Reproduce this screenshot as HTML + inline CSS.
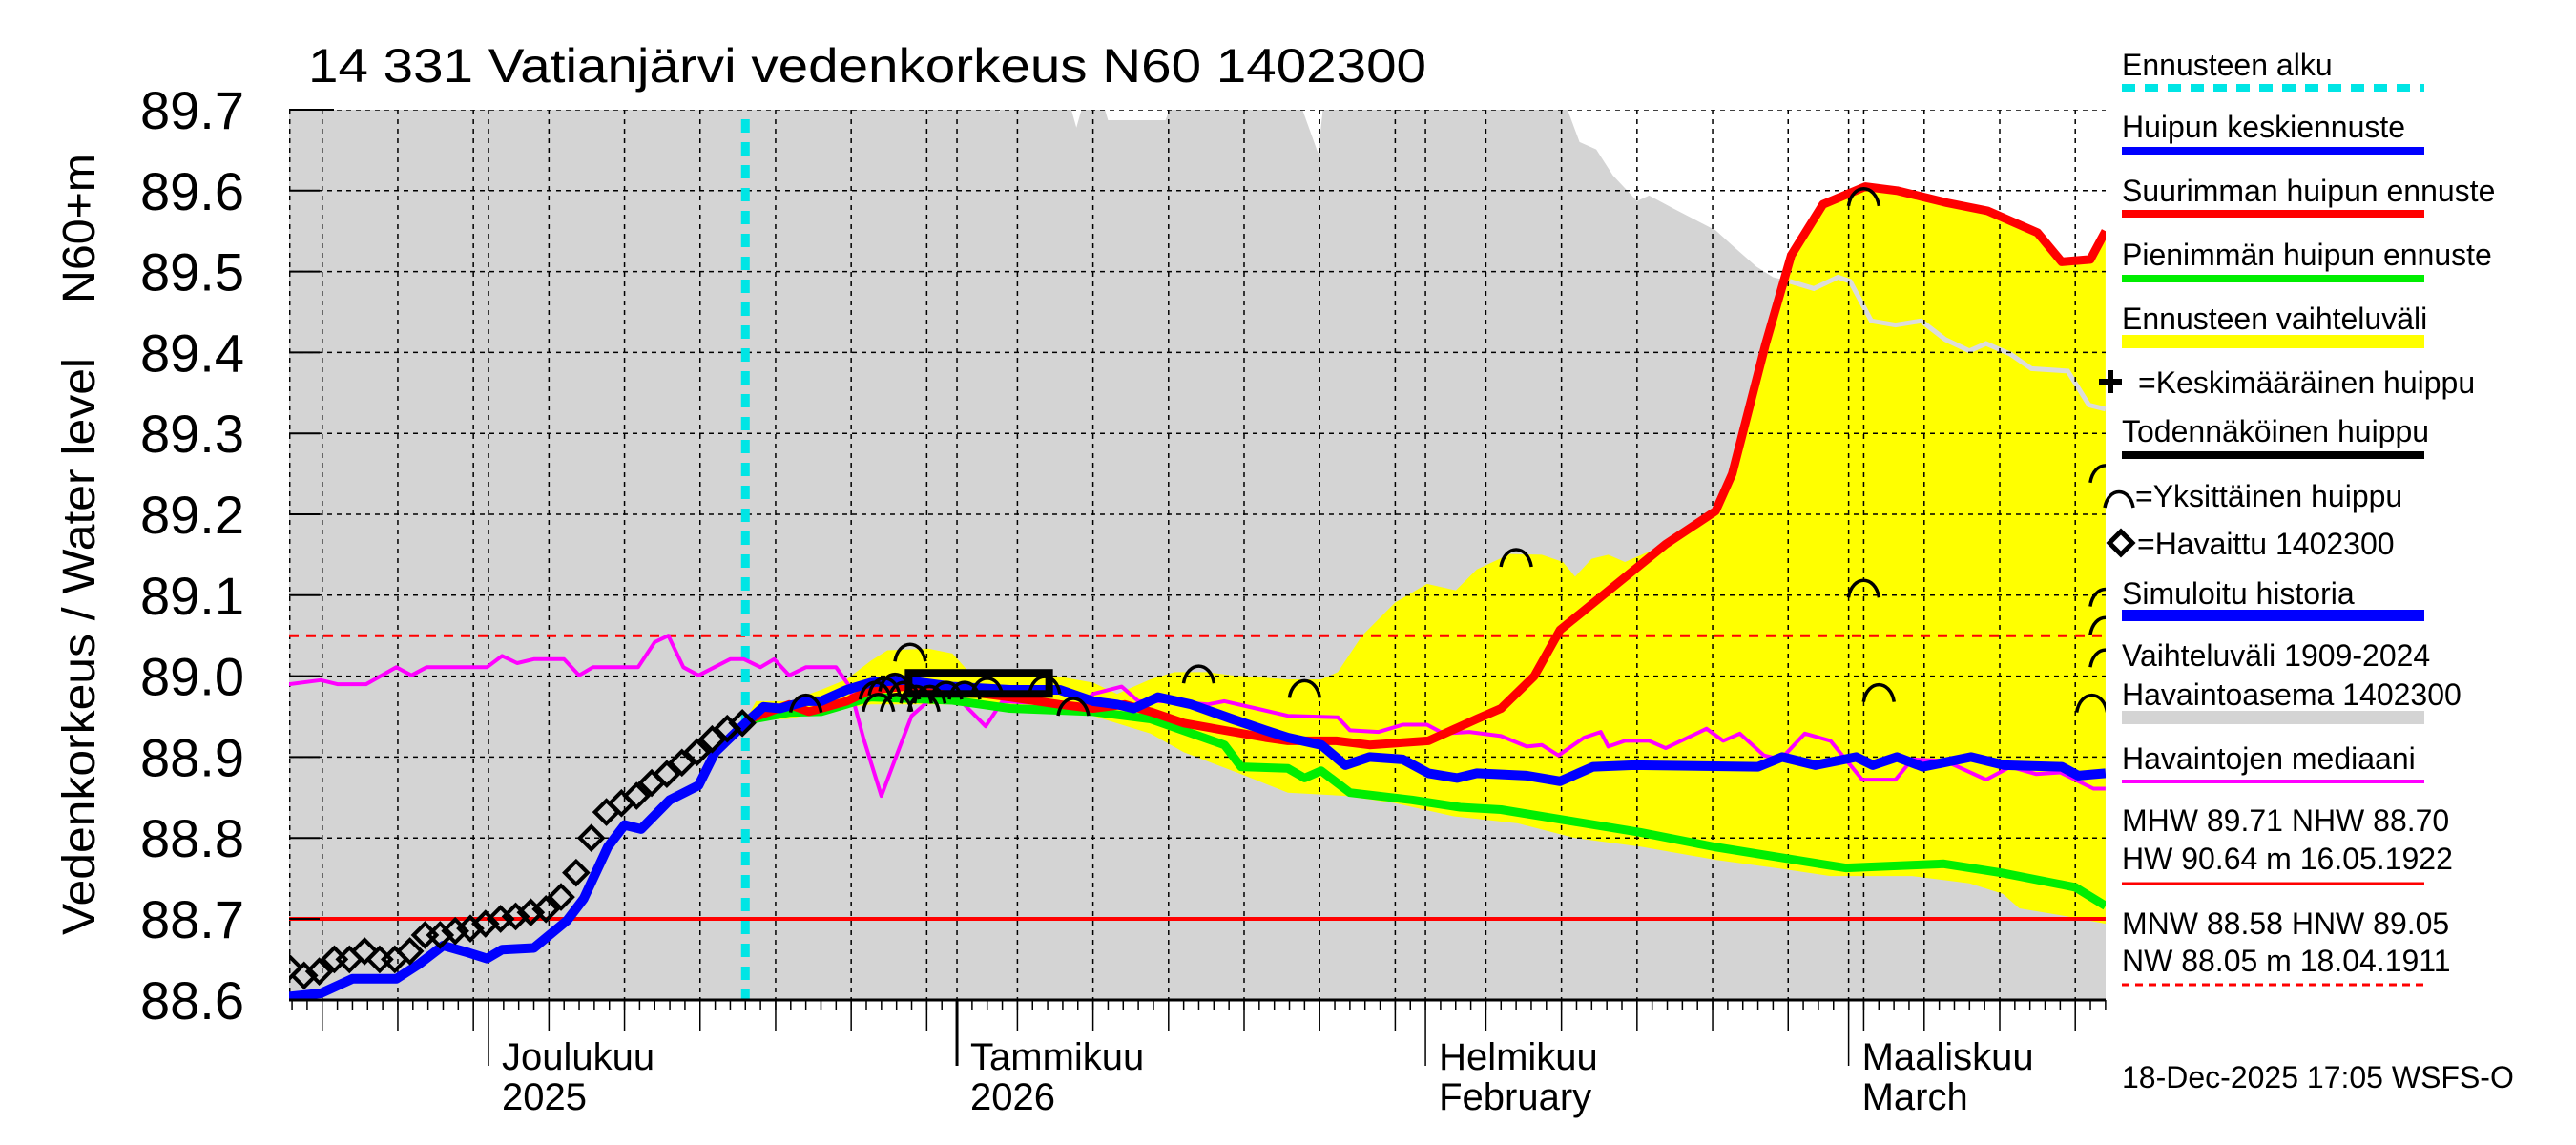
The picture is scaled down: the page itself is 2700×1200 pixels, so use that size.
<!DOCTYPE html>
<html><head><meta charset="utf-8">
<style>
html,body{margin:0;padding:0;background:#fff;}
svg{display:block;font-family:"Liberation Sans",Arial,sans-serif;}
</style></head>
<body>
<svg id="chart" width="2700" height="1200" viewBox="0 0 2700 1200">
<defs><clipPath id="plotclip"><rect x="303" y="115" width="1904" height="933"/></clipPath></defs>
<g id="plot" clip-path="url(#plotclip)"></g>
<g id="axes"></g>
<g id="legend"></g>
</svg>
<script>
// ---- data (day 0 = 1 Dec 2025) ----
const yTicks = [88.6,88.7,88.8,88.9,89.0,89.1,89.2,89.3,89.4,89.5,89.6,89.7];
const yTickLabels = ["88.6","88.7","88.8","88.9","89.0","89.1","89.2","89.3","89.4","89.5","89.6","89.7"];
const gridDays = [-11,-6,-1,4,9,14,19,24,29,35,40,45,50,55,60,66,71,76,81,86,91,95,100,105];
const monthDays = [0,31,62,90];
const monthLabels = ["Joulukuu","Tammikuu","Helmikuu","Maaliskuu"];
const monthLabels2 = ["2025","2026","February","March"];
const forecastStartDay = 17;
const nhw = 88.70, hnw = 89.05;

const obsValues = [88.64,88.63,88.635,88.65,88.65,88.66,88.65,88.65,88.66,88.68,88.68,88.685,88.688,88.694,88.70,88.703,88.708,88.712,88.727,88.757,88.80,88.832,88.843,88.852,88.868,88.879,88.893,88.906,88.922,88.935,88.942];
const obsStartDay = -13.2;

const blueDays = [-13.2,-11.1,-9,-6.1,-4.6,-3,-1.3,-0.1,0.9,3,5.2,6.3,7.9,9,10.1,12,13.9,15,17,18.2,19.3,21,22,23.7,25.3,27.5,30.7,34.5,37.8,40,41.6,42.7,44.3,46.5,49.2,51.4,52.9,55.1,56.7,58.3,60.5,62.2,64.1,65.4,68.7,70.9,73.1,75.8,84,85.6,87.8,90.5,91.6,93.2,94.9,98.1,100.3,104.1,105.2,107];
const blueValues = [88.604,88.608,88.626,88.626,88.644,88.667,88.658,88.651,88.662,88.664,88.698,88.725,88.789,88.816,88.811,88.847,88.865,88.906,88.942,88.962,88.96,88.969,88.969,88.983,88.992,88.995,88.987,88.983,88.983,88.969,88.965,88.96,88.974,88.965,88.947,88.933,88.924,88.915,88.89,88.90,88.897,88.88,88.874,88.88,88.877,88.87,88.888,88.89,88.888,88.90,88.89,88.90,88.89,88.90,88.888,88.90,88.89,88.888,88.877,88.88];

const redDays = [17,19.9,21.2,22,23.7,25.3,27.5,30.7,34.5,37.8,40,42.1,43.8,46,48.7,51.4,52.9,56.1,58.3,62.2,65.4,67,69.2,70.9,74.6,77.9,81.2,82.3,84.5,86.2,88.3,91.1,93.2,96.5,99.2,102.5,104.1,106,107];
const redValues = [88.945,88.965,88.956,88.96,88.969,88.983,88.987,88.983,88.974,88.965,88.96,88.965,88.956,88.942,88.933,88.924,88.92,88.92,88.915,88.92,88.947,88.96,89.0,89.057,89.113,89.163,89.204,89.25,89.41,89.52,89.583,89.605,89.6,89.585,89.575,89.548,89.512,89.515,89.55];

const greenDays = [17,19.9,22,25.3,30.7,34.5,40,43.8,48.7,49.8,52.9,54,55.1,57,61.1,64.3,67,71.9,76.2,81.1,89.8,96.3,100.1,105,107];
const greenValues = [88.945,88.955,88.956,88.974,88.97,88.96,88.956,88.947,88.915,88.888,88.886,88.874,88.883,88.856,88.847,88.838,88.835,88.82,88.807,88.789,88.763,88.768,88.757,88.739,88.716];

const medDays = [-13.2,-11.1,-10,-8.1,-6.1,-5.1,-4.1,-0.1,0.9,1.9,3,5,6,6.9,9.9,11,11.9,12.9,13.9,16,16.9,18,18.9,19.9,21,23,23.9,24.8,26,26.9,28,29.1,31,32.9,34,37.8,38.9,40,41.9,43,44.9,47.6,48.7,50.8,52.9,56.2,57,58.9,60.5,62.1,63.2,64.9,67,68.7,69.7,70.8,72.5,73.6,74.1,75.2,76.8,77.9,80.6,81.7,82.8,84.4,85.5,87.1,88.8,90.9,93.1,94.2,96.4,99.1,100.7,102.4,104,106.2,107];
const medValues = [88.99,88.995,88.99,88.99,89.011,89.001,89.011,89.011,89.025,89.016,89.021,89.021,89.001,89.011,89.011,89.042,89.05,89.011,89.001,89.021,89.021,89.011,89.021,89.001,89.011,89.011,88.987,88.924,88.852,88.897,88.951,88.969,88.974,88.938,88.969,88.965,88.956,88.978,88.987,88.969,88.969,88.965,88.969,88.96,88.951,88.949,88.933,88.931,88.94,88.94,88.929,88.931,88.926,88.913,88.915,88.902,88.924,88.931,88.913,88.92,88.92,88.911,88.935,88.92,88.929,88.902,88.897,88.929,88.92,88.872,88.872,88.897,88.895,88.872,88.888,88.879,88.881,88.861,88.861];

const grayDays = [-14,33,33.8,34.6,37.8,38.9,40,41,44.8,46,52.9,54.9,55.5,71.4,72.2,73.3,74.4,76,76.8,78.4,81.2,82.5,83.9,85,86.1,87.7,89.3,90.1,91.5,93.1,94.8,96.4,98,99.1,100.7,102.1,104.5,105.9,107,108];
const grayUpper = [89.75,89.75,89.696,89.75,89.75,89.678,89.75,89.687,89.687,89.75,89.75,89.646,89.75,89.7,89.66,89.651,89.619,89.587,89.594,89.578,89.551,89.529,89.506,89.493,89.488,89.479,89.493,89.488,89.439,89.434,89.439,89.416,89.402,89.411,89.398,89.38,89.377,89.335,89.33,89.33];
const paleStart = 24;

const yelUpDays = [17,17.7,19.9,22,23.7,25.3,26.4,29.1,30.7,31.8,32.9,37.3,40,41.6,43.8,45.4,47.6,49.2,52.9,55.1,56.2,57.8,60,62.1,64,65.4,67.6,69.7,71.1,71.9,73,74.1,75.2,77.9,81.2,82.3,84.5,86.2,88.3,91.1,93.2,96.5,99.2,102.5,104.1,106,107];
const yelUpValues = [88.945,88.969,88.969,88.983,88.996,89.019,89.032,89.034,89.028,89.005,89.001,89.001,88.992,88.978,88.996,89.005,89.005,89.001,88.996,88.996,89.005,89.05,89.091,89.114,89.106,89.132,89.151,89.15,89.141,89.123,89.145,89.15,89.141,89.163,89.204,89.25,89.41,89.52,89.583,89.605,89.6,89.585,89.575,89.548,89.512,89.515,89.55];
const yelLoDays = [17,19.9,22,25.3,30.7,34.5,40,43.8,46,49.8,52.9,56.7,60,63.8,68.1,71.9,76.3,81.2,85.5,88.8,94.2,98,100.2,101.3,104.5,107];
const yelLoValues = [88.945,88.947,88.956,88.965,88.965,88.956,88.951,88.929,88.906,88.879,88.856,88.852,88.843,88.827,88.818,88.8,88.789,88.773,88.762,88.753,88.753,88.744,88.731,88.713,88.703,88.694];

const probDays = [27.8,37.1];
const probValues = [89.004,88.978];

const peakDays = [21,27.9,47,54,68,91,91,92,107,107,107,107,106.1,25.6,26.2,26.9,27.5,28.3,29.2,30.3,31.5,33,36.8,38.7,25.8,27,28.8];
const peakValues = [88.974,89.037,89.01,88.992,89.154,89.6,89.116,88.987,89.258,89.105,89.07,89.03,88.974,88.99,88.995,89.0,88.99,88.985,88.985,88.99,88.99,88.995,88.997,88.97,88.975,88.975,88.975];

// ---- scales ----
const NS = "http://www.w3.org/2000/svg";
function xS(d){ return 512 + 15.84*d; }
function yS(v){ return 115 + (89.7 - v)*848; }
function mk(tag, attrs, parent){ const e=document.createElementNS(NS,tag); for(const k in attrs) e.setAttribute(k,attrs[k]); parent.appendChild(e); return e; }
const plot=document.getElementById('plot'), axes=document.getElementById('axes'), legend=document.getElementById('legend');
function pathOf(days, vals){ return days.map((d,i)=>(i?'L':'M')+xS(d).toFixed(1)+','+yS(vals[i]).toFixed(1)).join(''); }

let g = mk('path',{d:pathOf(grayDays,grayUpper)+'L'+xS(108)+','+yS(88.5)+'L'+xS(-14)+','+yS(88.5)+'Z',fill:'#d4d4d4'},plot);



const yd = pathOf(yelUpDays,yelUpValues) + yelLoDays.slice().reverse().map((d,i)=>'L'+xS(d).toFixed(1)+','+yS(yelLoValues[yelLoValues.length-1-i]).toFixed(1)).join('') + 'Z';
let yb = mk('path',{d:yd,fill:'#ffff00'},plot);



let pl = mk('path',{d:pathOf(grayDays.slice(paleStart,grayDays.length-1),grayUpper.slice(paleStart,grayUpper.length-1)),fill:'none',stroke:'#dcdcdc','stroke-width':5},plot);



yTicks.forEach((v,i)=>{
  if(i===0) return;
  const l=mk('line',{x1:303,x2:2207,y1:yS(v),y2:yS(v),stroke:'#000','stroke-width':1.5,'stroke-dasharray':'5,5'},plot);
  
  
});
gridDays.concat(monthDays).concat([-13.2+0.05]).forEach(d=>{
  const l=mk('line',{x1:xS(d),x2:xS(d),y1:115,y2:1048,stroke:'#000','stroke-width':1.5,'stroke-dasharray':'5,5'},plot);
  
  
});
let rl=mk('line',{x1:303,x2:2207,y1:yS(nhw),y2:yS(nhw),stroke:'#ff0000','stroke-width':4},plot);


let rd=mk('line',{x1:303,x2:2207,y1:yS(hnw),y2:yS(hnw),stroke:'#ff0000','stroke-width':3,'stroke-dasharray':'10,8'},plot);


let cy=mk('line',{x1:xS(forecastStartDay),x2:xS(forecastStartDay),y1:125,y2:1048,stroke:'#00e5e5','stroke-width':9,'stroke-dasharray':'14,10'},plot);



let m=mk('path',{d:pathOf(medDays,medValues),fill:'none',stroke:'#ff00ff','stroke-width':4,'stroke-linejoin':'round'},plot);


let gr=mk('path',{d:pathOf(greenDays,greenValues),fill:'none',stroke:'#00ee00','stroke-width':9,'stroke-linejoin':'round'},plot);


let re=mk('path',{d:pathOf(redDays,redValues),fill:'none',stroke:'#ff0000','stroke-width':9,'stroke-linejoin':'round'},plot);


let bl=mk('path',{d:pathOf(blueDays,blueValues),fill:'none',stroke:'#0000ff','stroke-width':10,'stroke-linejoin':'round'},plot);


let pr=mk('rect',{x:xS(probDays[0]),y:yS(probValues[0]),width:xS(probDays[1])-xS(probDays[0]),height:yS(probValues[1])-yS(probValues[0]),fill:'none',stroke:'#000','stroke-width':8},plot);


peakDays.forEach((d,i)=>{
  const x=xS(d), y=yS(peakValues[i])+12;
  const a=mk('path',{d:`M${x-16},${y+4}C${x-12},${y-20} ${x+12},${y-20} ${x+16},${y+4}`,fill:'none',stroke:'#000','stroke-width':3.5},plot);
  
  
});
obsValues.forEach((v,i)=>{
  const x=xS(obsStartDay+i), y=yS(v);
  const p=mk('path',{d:`M${x},${y-12}L${x+12},${y}L${x},${y+12}L${x-12},${y}Z`,fill:'none',stroke:'#000','stroke-width':4},plot);
  
  
});

let ax=mk('line',{x1:303,x2:2207,y1:1048,y2:1048,stroke:'#000','stroke-width':3},axes);


let tl=mk('line',{x1:303,x2:350,y1:115,y2:115,stroke:'#000','stroke-width':2},axes);


for(let d=-13;d<=107;d++){
  const t=mk('line',{x1:xS(d),x2:xS(d),y1:1048,y2:1058,stroke:'#000','stroke-width':1.5},axes);
  
  
}
gridDays.forEach(d=>{
  const t=mk('line',{x1:xS(d),x2:xS(d),y1:1048,y2:1081,stroke:'#000','stroke-width':1.5},axes);
  
  
});
monthDays.forEach((d,i)=>{
  const t=mk('line',{x1:xS(d),x2:xS(d),y1:1048,y2:1117,stroke:'#000','stroke-width':i===1?3:1.5},axes);
  
  
  const a=mk('text',{x:xS(d)+14,y:1121,'font-size':40,fill:'#000'},axes); a.textContent=monthLabels[i];
  
  
  const b=mk('text',{x:xS(d)+14,y:1163,'font-size':40,fill:'#000'},axes); b.textContent=monthLabels2[i];
  
  
});
yTicks.forEach((v,i)=>{
  const t=mk('text',{x:256,y:yS(v)+20,'font-size':56,'text-anchor':'end',fill:'#000'},axes); t.textContent=yTickLabels[i];
  
  
  const k=mk('line',{x1:303,x2:335,y1:yS(v),y2:yS(v),stroke:'#000','stroke-width':2},axes);
  
  
});

const L=2224, LE=2541;
function legLine(y,color,w,dash,name){
  const l=mk('line',{x1:L,x2:LE,y1:y,y2:y,stroke:color,'stroke-width':w},legend);
  if(dash) l.setAttribute('stroke-dasharray',dash);
  
  
}
function legText(x,y,s,name,size){
  const t=mk('text',{x:x,y:y,'font-size':size||32,fill:'#000'},legend); t.textContent=s;
  
  
}
legText(L,79,'Ennusteen alku','legend-forecast-start'); legLine(92,'#00e5e5',8,'14,10','legend-forecast-start-swatch');
legText(L,144,'Huipun keskiennuste','legend-mean-forecast'); legLine(158,'#0000ff',8,null,'legend-mean-swatch');
legText(L,211,'Suurimman huipun ennuste','legend-max-forecast'); legLine(224,'#ff0000',8,null,'legend-max-swatch');
legText(L,278,'Pienimmän huipun ennuste','legend-min-forecast'); legLine(292,'#00ee00',8,null,'legend-min-swatch');
legText(L,345,'Ennusteen vaihteluväli','legend-forecast-range'); legLine(358,'#ffff00',14,null,'legend-range-swatch');
legText(2241,412,'=Keskimääräinen huippu','legend-average-peak');
let pls=mk('path',{d:'M2200,400h24M2212,388v24',stroke:'#000','stroke-width':6},legend);


legText(L,463,'Todennäköinen huippu','legend-probable-peak'); legLine(477,'#000',8,null,'legend-probable-swatch');
let arc=mk('path',{d:'M2206,532C2210,510 2232,510 2236,532',fill:'none',stroke:'#000','stroke-width':3.5},legend);


legText(2238,531,'=Yksittäinen huippu','legend-single-peak');
let dia=mk('path',{d:'M2223,557L2235,569L2223,581L2211,569Z',fill:'none',stroke:'#000','stroke-width':5},legend);


legText(2240,581,'=Havaittu 1402300','legend-observed');
legText(L,633,'Simuloitu historia','legend-simulated'); legLine(645,'#0000ff',12,null,'legend-simulated-swatch');
legText(L,698,'Vaihteluväli 1909-2024','legend-variation');
legText(L,739,'Havaintoasema 1402300','legend-station'); legLine(752,'#d4d4d4',14,null,'legend-station-swatch');
legText(L,806,'Havaintojen mediaani','legend-median'); legLine(819,'#ff00ff',4,null,'legend-median-swatch');
legText(L,871,'MHW  89.71 NHW  88.70','stat-mhw');
legText(L,911,'HW  90.64 m 16.05.1922','stat-hw'); legLine(926,'#ff0000',3,null,'stat-hw-line');
legText(L,979,'MNW  88.58 HNW  89.05','stat-mnw');
legText(L,1018,'NW  88.05 m 18.04.1911','stat-nw'); legLine(1032,'#ff0000',3,'8,6','stat-nw-line');
legText(L,1140,'18-Dec-2025 17:05 WSFS-O','timestamp',32);

let ti=mk('text',{x:323,y:86,'font-size':50,fill:'#000',textLength:1172,lengthAdjust:'spacingAndGlyphs'},axes);
ti.textContent='14 331 Vatianjärvi vedenkorkeus N60 1402300';


let yt=mk('text',{x:0,y:0,'font-size':48,fill:'#000',transform:'translate(99,980) rotate(-90)',textLength:605,lengthAdjust:'spacingAndGlyphs'},axes);
yt.textContent='Vedenkorkeus / Water level';


let yu=mk('text',{x:0,y:0,'font-size':48,fill:'#000',transform:'translate(99,318) rotate(-90)',textLength:157,lengthAdjust:'spacingAndGlyphs'},axes);
yu.textContent='N60+m';


</script>
</body></html>
